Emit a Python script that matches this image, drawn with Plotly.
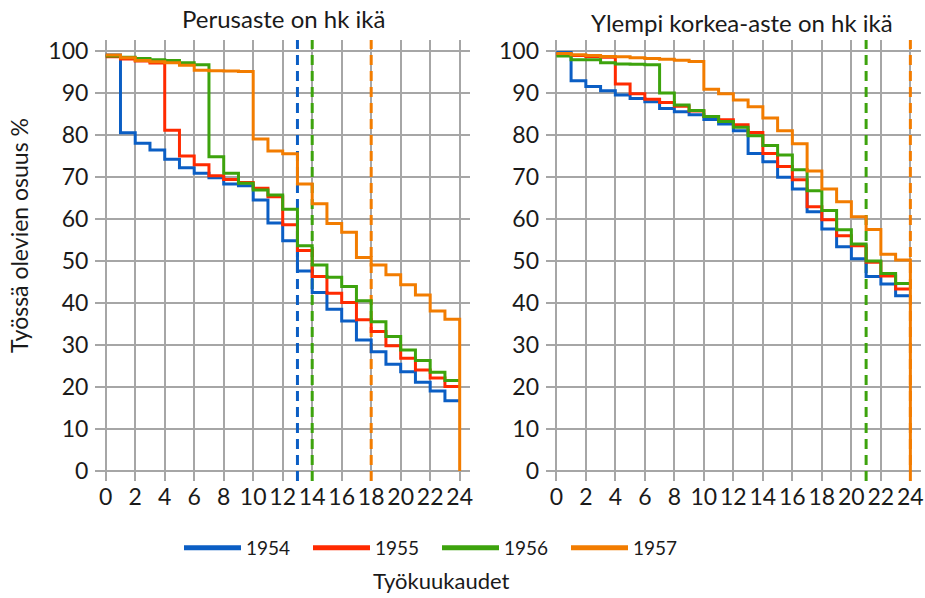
import plotly.graph_objects as go

months = list(range(0, 25))
years = ["1954", "1955", "1956", "1957"]
colors = ["#0B5EC4", "#FF2A00", "#3DA30D", "#F27C00"]

# Perusaste (left) - monthly share employed, months 0..23
left_1954 = [99.0, 80.5, 78.0, 76.4, 74.2, 72.2, 70.9, 69.8, 68.3, 67.9, 64.5, 59.0, 54.8, 47.6, 42.5, 38.5, 35.7, 31.2, 28.4, 25.4, 23.6, 21.1, 19.0, 16.7]
left_1955 = [98.6, 98.1, 97.6, 97.1, 81.1, 75.0, 72.9, 70.3, 69.4, 68.7, 67.3, 65.3, 58.6, 52.5, 46.3, 42.3, 40.1, 36.0, 33.2, 29.8, 26.8, 24.0, 22.1, 20.1]
left_1956 = [98.8, 98.5, 98.2, 97.9, 97.7, 97.2, 96.7, 74.8, 70.9, 68.5, 66.9, 65.7, 62.3, 53.6, 49.0, 46.1, 43.9, 40.5, 35.5, 32.0, 28.8, 26.3, 23.5, 21.5]
left_1957 = [99.0, 98.4, 97.7, 97.4, 97.2, 96.6, 95.4, 95.3, 95.2, 95.1, 79.0, 76.2, 75.5, 68.3, 63.6, 58.9, 56.8, 50.8, 49.0, 46.7, 44.3, 41.9, 38.1, 36.1]

# Ylempi korkea-aste (right)
right_1954 = [99.6, 92.9, 91.5, 90.5, 89.5, 88.7, 87.9, 86.3, 85.5, 84.8, 83.7, 82.6, 81.0, 75.6, 73.6, 69.9, 67.1, 61.7, 57.6, 53.4, 50.5, 46.3, 44.5, 41.7]
right_1955 = [99.2, 98.9, 98.7, 98.5, 92.1, 89.8, 88.5, 87.7, 86.8, 85.7, 84.4, 83.6, 82.4, 80.6, 75.6, 72.5, 69.3, 62.9, 59.8, 56.0, 53.6, 49.7, 46.4, 43.3]
right_1956 = [98.8, 97.9, 97.9, 97.2, 96.9, 96.8, 96.7, 90.0, 87.1, 85.8, 84.4, 83.2, 81.8, 79.8, 77.5, 75.2, 71.7, 66.7, 62.0, 57.4, 54.0, 50.0, 47.0, 44.6]
right_1957 = [99.4, 99.1, 98.9, 98.7, 98.6, 98.4, 98.2, 98.0, 97.8, 97.5, 90.9, 89.8, 88.3, 86.7, 84.0, 81.0, 77.9, 71.4, 67.1, 64.1, 60.5, 57.5, 51.6, 50.2]

# dashed vertical markers (month, series index)
left_markers = [(13, 0), (14, 2), (18, 3)]
right_markers = [(21, 2), (24, 3)]

left_data = [left_1954, left_1955, left_1956, left_1957]
right_data = [right_1954, right_1955, right_1956, right_1957]

y_range = [-2.4, 102.6]
x_range = [-0.7, 24.7]
FONT = "Lato"
TXT = "#1a1a1a"

fig = go.Figure()

def add_markers(markers, xa, ya):
    for m, ci in markers:
        fig.add_trace(go.Scatter(
            x=[m, m], y=y_range, mode="lines", xaxis=xa, yaxis=ya,
            line=dict(color=colors[ci], width=3, dash="10px,6px"),
            showlegend=False, hoverinfo="skip"))

add_markers(left_markers, "x", "y")
add_markers(right_markers, "x2", "y2")

def add_series(data, xa, ya):
    for i, vals in enumerate(data):
        ys = list(vals) + [vals[-1]]
        xs = list(months)
        if i == 3:
            xs = xs + [24]
            ys = ys + [0]
        fig.add_trace(go.Scatter(
            x=xs, y=ys, mode="lines", line_shape="hv", xaxis=xa, yaxis=ya,
            name=years[i], legendgroup=years[i], showlegend=False,
            line=dict(color=colors[i], width=3)))

add_series(left_data, "x", "y")
add_series(right_data, "x2", "y2")

# legend entries (thicker sample lines, as in the original)
for i, yr in enumerate(years):
    fig.add_trace(go.Scatter(
        x=[None], y=[None], mode="lines", name=yr, legendgroup=yr,
        line=dict(color=colors[i], width=5), showlegend=True, hoverinfo="skip"))

# figure fills the whole 925x598 window (body margin removed below)
W, H = 925, 598
def px_x(p):
    return p / W
def px_y(p):
    return 1 - p / H

axis_common = dict(
    range=x_range, tickmode="array", tickvals=list(range(0, 25, 2)),
    showgrid=True, gridcolor="#A6A6A6", gridwidth=1.5, zeroline=False,
    showline=False, ticks="", tickfont=dict(family=FONT, size=23, color=TXT),
    automargin=False, ticklabeloverflow="allow", fixedrange=True,
)
yaxis_common = dict(
    range=y_range, tickmode="array", tickvals=list(range(0, 101, 10)),
    showgrid=True, gridcolor="#A6A6A6", gridwidth=1.5, zeroline=False,
    showline=False, ticks="", tickfont=dict(family=FONT, size=23, color=TXT),
    ticklabelstandoff=6, automargin=False, ticklabeloverflow="allow", fixedrange=True,
)

fig.update_layout(
    width=W, height=H,
    margin=dict(l=0, r=0, t=0, b=0, autoexpand=False),
    paper_bgcolor="white", plot_bgcolor="white",
    xaxis=dict(domain=[px_x(95.4), px_x(470)], anchor="y", **axis_common),
    yaxis=dict(domain=[px_y(481), px_y(40)], anchor="x", **yaxis_common),
    xaxis2=dict(domain=[px_x(546), px_x(920.7)], anchor="y2", **axis_common),
    yaxis2=dict(domain=[px_y(481), px_y(40)], anchor="x2", **yaxis_common),
    legend=dict(orientation="h", x=px_x(179), xanchor="left", y=px_y(548), yanchor="middle",
                font=dict(family=FONT, size=19, color=TXT),
                entrywidth=57, entrywidthmode="pixels", itemwidth=57,
                bgcolor="rgba(0,0,0,0)"),
    showlegend=True,
    annotations=[
        dict(text="Perusaste on hk ikä", x=px_x(283.5), y=px_y(19), xref="paper", yref="paper",
             showarrow=False, xanchor="center", yanchor="middle",
             font=dict(family=FONT, size=24, color=TXT)),
        dict(text="Ylempi korkea-aste on hk ikä", x=px_x(741.5), y=px_y(23), xref="paper", yref="paper",
             showarrow=False, xanchor="center", yanchor="middle",
             font=dict(family=FONT, size=24, color=TXT)),
        dict(text="Työkuukaudet", x=px_x(441), y=px_y(580), xref="paper", yref="paper",
             showarrow=False, xanchor="center", yanchor="middle",
             font=dict(family=FONT, size=22, color=TXT)),
        dict(text="Työssä olevien osuus %", x=px_x(19), y=px_y(236), xref="paper", yref="paper",
             showarrow=False, xanchor="center", yanchor="middle", textangle=-90,
             font=dict(family=FONT, size=23, color=TXT)),
    ],
)

fig.write_html("out.html", config={"displayModeBar": False},
               post_script="document.body.style.margin='0';")
